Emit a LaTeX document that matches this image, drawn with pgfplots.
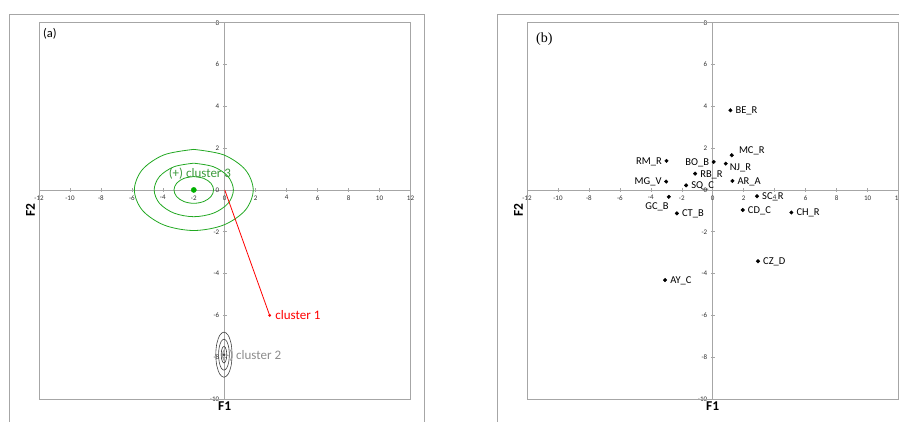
\documentclass[border=0pt]{standalone}
\usepackage{pgfplots}
\pgfplotsset{compat=1.18}
\usepackage{fontspec}
\setmainfont{Carlito}
\newfontfamily\serifb{Liberation Serif}
\definecolor{framegray}{HTML}{A6A6A6}
\definecolor{tickgray}{HTML}{303030}
\definecolor{cgreen}{HTML}{22A822}
\definecolor{cdot}{HTML}{00B000}
\definecolor{ctext}{HTML}{3C9A3C}
\definecolor{c2line}{HTML}{404040}
\definecolor{c2text}{HTML}{8C8C8C}
\pgfplotsset{
  myaxis/.style={
    scale only axis, width=371.5pt, height=376.3pt,
    axis lines=middle, axis line style={framegray, line width=0.8pt, -},
    xmin=-12, xmax=12, ymin=-10, ymax=8,
    xtick={-12,-10,...,12}, ytick={-10,-8,...,8},
    hide obscured x ticks=false, hide obscured y ticks=false,
    tick align=center, major tick length=4pt,
    tick style={framegray, line width=0.6pt},
    ticklabel style={font=\fontsize{7}{8}\selectfont, text=tickgray},
    /pgf/number format/assume math mode=true,
    clip=false,
  }
}
\begin{document}
\begin{tikzpicture}[x=1pt,y=1pt]
\path[use as bounding box] (0,0) rectangle (899,422);
\clip (0,0) rectangle (899,422);
\draw[framegray, line width=0.8pt] (9,408) rectangle (424,-10);
\draw[framegray, line width=0.8pt] (497.7,408) rectangle (920,-10);

% ---------------- panel (a)
\begin{axis}[myaxis, at={(39pt,23pt)}, anchor=south west]
\draw[framegray, line width=0.8pt] (rel axis cs:0,0) rectangle (rel axis cs:1,1);
% cluster 3 ellipses
\addplot[cgreen, line width=0.8pt, smooth, tension=0.55] coordinates {
(-2,0.64) (-2.64,0.554) (-3.108,0.32) (-3.28,0) (-3.108,-0.32) (-2.64,-0.554)
(-2,-0.64) (-1.36,-0.554) (-0.892,-0.32) (-0.72,0) (-0.892,0.32) (-1.36,0.554) (-2,0.64)};
\addplot[cgreen, line width=0.8pt, smooth, tension=0.55] coordinates {
(-2,1.28) (-3.28,1.108) (-4.217,0.64) (-4.56,0) (-4.217,-0.64) (-3.28,-1.108)
(-2,-1.28) (-0.72,-1.108) (0.217,-0.64) (0.56,0) (0.217,0.64) (-0.72,1.108) (-2,1.28)};
\addplot[cgreen, line width=0.8pt, smooth, tension=0.55] coordinates {
(-2,1.94) (-3.92,1.68) (-5.325,0.97) (-5.84,0) (-5.325,-0.97) (-3.92,-1.68)
(-2,-1.94) (-0.08,-1.68) (1.325,-0.97) (1.84,0) (1.325,0.97) (-0.08,1.68) (-2,1.94)};
\addplot[only marks, mark=*, mark size=2.6pt, cdot] coordinates {(-2,0)};
% cluster 2 ellipses
\addplot[c2line, line width=0.6pt, smooth, tension=0.55] coordinates {
(0.13,-7.88) (0.106,-7.68) (0.04,-7.534) (-0.05,-7.48) (-0.14,-7.534) (-0.206,-7.68)
(-0.23,-7.88) (-0.206,-8.08) (-0.14,-8.226) (-0.05,-8.28) (0.04,-8.226) (0.106,-8.08) (0.13,-7.88)};
\addplot[c2line, line width=0.6pt, smooth, tension=0.55] coordinates {
(0.30,-7.88) (0.253,-7.51) (0.125,-7.239) (-0.05,-7.14) (-0.225,-7.239) (-0.353,-7.51)
(-0.40,-7.88) (-0.353,-8.25) (-0.225,-8.521) (-0.05,-8.62) (0.125,-8.521) (0.253,-8.25) (0.30,-7.88)};
\addplot[c2line, line width=0.6pt, smooth, tension=0.55] coordinates {
(0.48,-7.88) (0.409,-7.34) (0.215,-6.945) (-0.05,-6.80) (-0.315,-6.945) (-0.509,-7.34)
(-0.58,-7.88) (-0.509,-8.42) (-0.315,-8.815) (-0.05,-8.96) (0.215,-8.815) (0.409,-8.42) (0.48,-7.88)};
\addplot[only marks, mark=*, mark size=1.1pt, c2line] coordinates {(-0.05,-7.88)};
% cluster 1
\addplot[red, line width=0.8pt] coordinates {(0,0) (2.9,-6)};
\addplot[only marks, mark=*, mark size=1.2pt, red] coordinates {(2.9,-6)};
% labels
\node[anchor=base west, inner sep=0pt, text=ctext, font=\fontsize{13}{15}\selectfont]
  at ([yshift=-4.1pt]axis cs:-3.63,0.78) {(+) cluster 3};
\node[anchor=base west, inner sep=0pt, text=red, font=\fontsize{13}{15}\selectfont]
  at ([yshift=-4.1pt]axis cs:3.26,-6.0) {cluster 1};
\node[anchor=base west, inner sep=0pt, text=c2text, font=\fontsize{13}{15}\selectfont]
  at ([yshift=-4.1pt]axis cs:-0.23,-7.9) {(-) cluster 2};
\node[anchor=west, inner sep=0pt, font=\fontsize{12.5}{14}\selectfont]
  at ([xshift=4pt,yshift=-11.6pt]rel axis cs:0,1) {(a)};
\node[anchor=north, inner sep=0pt, font=\bfseries\fontsize{13.5}{15}\selectfont]
  at ([yshift=-3pt]axis cs:0,-10) {F1};
\node[anchor=south, rotate=90, inner sep=0pt, font=\bfseries\fontsize{13.5}{15}\selectfont]
  at ([xshift=-4pt]axis cs:-12,-0.96) {F2};
\end{axis}

% ---------------- panel (b)
\begin{axis}[myaxis, at={(527pt,23pt)}, anchor=south west]
\draw[framegray, line width=0.8pt] (rel axis cs:0,0) rectangle (rel axis cs:1,1);
\pgfplotsset{lbl/.style={only marks, mark=*, mark size=1.8pt, black,
  nodes near coords, point meta=explicit symbolic,
  every node near coord/.append style={inner sep=0pt, text=black,
    font=\fontsize{10.5}{12}\selectfont}}}
\addplot[lbl, every node near coord/.append style={anchor=base west, xshift=5pt, yshift=-3.4pt}] coordinates {
(1.14,3.81) [BE\_R]
(-1.14,0.78) [RB\_R]
(1.27,0.43) [AR\_A]
(-1.72,0.22) [SQ\_C]
(2.86,-0.30) [SC\_R]
(-2.32,-1.12) [CT\_B]
(1.94,-0.96) [CD\_C]
(5.08,-1.08) [CH\_R]
(2.92,-3.41) [CZ\_D]
(-3.08,-4.31) [AY\_C]
};
\addplot[lbl, every node near coord/.append style={anchor=base west, xshift=7pt, yshift=1.6pt}] coordinates {
(1.23,1.66) [MC\_R]
};
\addplot[lbl, every node near coord/.append style={anchor=base west, xshift=4pt, yshift=-7.4pt}] coordinates {
(0.84,1.26) [NJ\_R]
};
\addplot[lbl, every node near coord/.append style={anchor=base east, xshift=-4.5pt, yshift=-3.4pt}] coordinates {
(-2.99,1.39) [RM\_R]
(0.06,1.34) [BO\_B]
(-3.01,0.40) [MG\_V]
};
\addplot[lbl, every node near coord/.append style={anchor=base east, xshift=0pt, yshift=-13pt}] coordinates {
(-2.84,-0.33) [GC\_B]
};
\node[anchor=west, inner sep=0pt, font=\serifb\fontsize{14}{16}\selectfont]
  at ([xshift=9pt,yshift=-16pt]rel axis cs:0,1) {(b)};
\node[anchor=north, inner sep=0pt, font=\bfseries\fontsize{13.5}{15}\selectfont]
  at ([yshift=-3pt]axis cs:0,-10) {F1};
\node[anchor=south, rotate=90, inner sep=0pt, font=\bfseries\fontsize{13.5}{15}\selectfont]
  at ([xshift=-4pt]axis cs:-12,-0.96) {F2};
\end{axis}
\end{tikzpicture}
\end{document}
